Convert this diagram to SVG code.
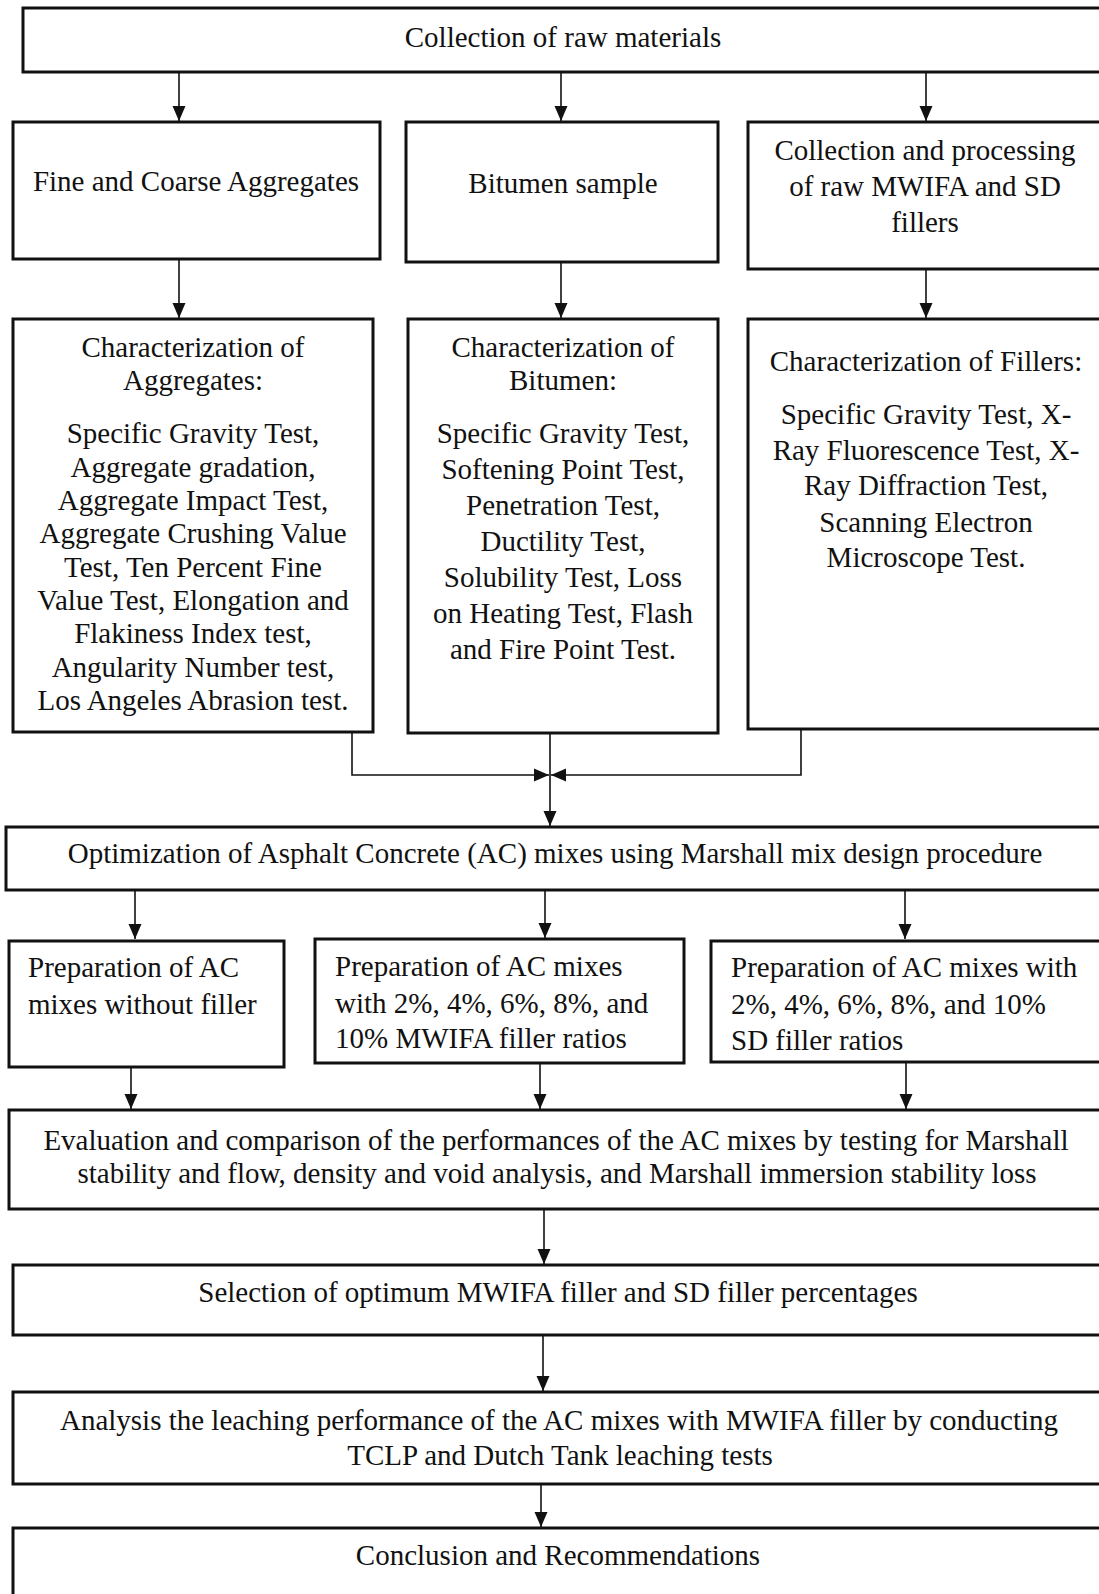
<svg xmlns="http://www.w3.org/2000/svg" width="1099" height="1594" viewBox="0 0 1099 1594">
<style>
.box{fill:#fff;stroke:#111;stroke-width:3}
.t{font-family:"Liberation Serif","Times New Roman",serif;font-size:29px;fill:#111}
.c{text-anchor:middle}
.ln{fill:none;stroke:#111;stroke-width:1.6}
</style>
<defs>
<marker id="ah" markerUnits="userSpaceOnUse" markerWidth="15" markerHeight="14" refX="15" refY="6.5" orient="auto" viewBox="0 0 15 13">
<path d="M0,0 L15,6.5 L0,13 Z" fill="#111"/>
</marker>
</defs>
<rect width="1099" height="1594" fill="#fff"/>
<g id="connectors">
<line class="ln" x1="179" y1="72" x2="179" y2="121" marker-end="url(#ah)"/>
<line class="ln" x1="561" y1="72" x2="561" y2="121" marker-end="url(#ah)"/>
<line class="ln" x1="926" y1="72" x2="926" y2="121" marker-end="url(#ah)"/>
<line class="ln" x1="179" y1="259" x2="179" y2="318" marker-end="url(#ah)"/>
<line class="ln" x1="561" y1="262" x2="561" y2="318" marker-end="url(#ah)"/>
<line class="ln" x1="926" y1="269" x2="926" y2="318" marker-end="url(#ah)"/>
<polyline class="ln" points="352,732 352,775 549,775" marker-end="url(#ah)"/>
<polyline class="ln" points="801,729 801,775 551,775" marker-end="url(#ah)"/>
<line class="ln" x1="550" y1="733" x2="550" y2="826" marker-end="url(#ah)"/>
<line class="ln" x1="135" y1="890" x2="135" y2="939" marker-end="url(#ah)"/>
<line class="ln" x1="545" y1="890" x2="545" y2="938" marker-end="url(#ah)"/>
<line class="ln" x1="905" y1="890" x2="905" y2="939" marker-end="url(#ah)"/>
<line class="ln" x1="131" y1="1067" x2="131" y2="1109" marker-end="url(#ah)"/>
<line class="ln" x1="540" y1="1063" x2="540" y2="1109" marker-end="url(#ah)"/>
<line class="ln" x1="906" y1="1062" x2="906" y2="1109" marker-end="url(#ah)"/>
<line class="ln" x1="544" y1="1210" x2="544" y2="1264" marker-end="url(#ah)"/>
<line class="ln" x1="543" y1="1335" x2="543" y2="1391" marker-end="url(#ah)"/>
<line class="ln" x1="541" y1="1484" x2="541" y2="1527" marker-end="url(#ah)"/>
</g>
<g id="n-collection">
<rect class="box" x="23" y="8" width="1090" height="64"/>
<text class="t c" x="563" y="47">Collection of raw materials</text>
</g>
<g id="n-aggregates">
<rect class="box" x="13" y="122" width="367" height="137"/>
<text class="t c" x="196" y="191">Fine and Coarse Aggregates</text>
</g>
<g id="n-bitumen">
<rect class="box" x="406" y="122" width="312" height="140"/>
<text class="t c" x="563" y="193">Bitumen sample</text>
</g>
<g id="n-fillers">
<rect class="box" x="748" y="122" width="365" height="147"/>
<text class="t c" x="925" y="160">Collection and processing</text>
<text class="t c" x="925" y="196">of raw MWIFA and SD</text>
<text class="t c" x="925" y="232">fillers</text>
</g>
<g id="n-char-agg">
<rect class="box" x="13" y="319" width="360" height="413"/>
<text class="t c" x="193" y="357">Characterization of</text>
<text class="t c" x="193" y="390">Aggregates:</text>
<text class="t c" x="193" y="443">Specific Gravity Test,</text>
<text class="t c" x="193" y="477">Aggregate gradation,</text>
<text class="t c" x="193" y="510">Aggregate Impact Test,</text>
<text class="t c" x="193" y="543">Aggregate Crushing Value</text>
<text class="t c" x="193" y="577">Test, Ten Percent Fine</text>
<text class="t c" x="193" y="610">Value Test, Elongation and</text>
<text class="t c" x="193" y="643">Flakiness Index test,</text>
<text class="t c" x="193" y="677">Angularity Number test,</text>
<text class="t c" x="193" y="710">Los Angeles Abrasion test.</text>
</g>
<g id="n-char-bit">
<rect class="box" x="408" y="319" width="310" height="414"/>
<text class="t c" x="563" y="357">Characterization of</text>
<text class="t c" x="563" y="390">Bitumen:</text>
<text class="t c" x="563" y="443">Specific Gravity Test,</text>
<text class="t c" x="563" y="479">Softening Point Test,</text>
<text class="t c" x="563" y="515">Penetration Test,</text>
<text class="t c" x="563" y="551">Ductility Test,</text>
<text class="t c" x="563" y="587">Solubility Test, Loss</text>
<text class="t c" x="563" y="623">on Heating Test, Flash</text>
<text class="t c" x="563" y="659">and Fire Point Test.</text>
</g>
<g id="n-char-fil">
<rect class="box" x="748" y="319" width="365" height="410"/>
<text class="t c" x="926" y="371">Characterization of Fillers:</text>
<text class="t c" x="926" y="424">Specific Gravity Test, X-</text>
<text class="t c" x="926" y="460">Ray Fluorescence Test, X-</text>
<text class="t c" x="926" y="495">Ray Diffraction Test,</text>
<text class="t c" x="926" y="532">Scanning Electron</text>
<text class="t c" x="926" y="567">Microscope Test.</text>
</g>
<g id="n-optimization">
<rect class="box" x="6" y="827" width="1107" height="63"/>
<text class="t c" x="555" y="863">Optimization of Asphalt Concrete (AC) mixes using Marshall mix design procedure</text>
</g>
<g id="n-prep-none">
<rect class="box" x="9" y="941" width="275" height="126"/>
<text class="t" x="28" y="977">Preparation of AC</text>
<text class="t" x="28" y="1014">mixes without filler</text>
</g>
<g id="n-prep-mwifa">
<rect class="box" x="315" y="939" width="369" height="124"/>
<text class="t" x="335" y="976">Preparation of AC mixes</text>
<text class="t" x="335" y="1013">with 2%, 4%, 6%, 8%, and</text>
<text class="t" x="335" y="1048">10% MWIFA filler ratios</text>
</g>
<g id="n-prep-sd">
<rect class="box" x="711" y="941" width="402" height="121"/>
<text class="t" x="731" y="977">Preparation of AC mixes with</text>
<text class="t" x="731" y="1014">2%, 4%, 6%, 8%, and 10%</text>
<text class="t" x="731" y="1050">SD filler ratios</text>
</g>
<g id="n-evaluation">
<rect class="box" x="9" y="1110" width="1104" height="99"/>
<text class="t c" x="556" y="1150">Evaluation and comparison of the performances of the AC mixes by testing for Marshall</text>
<text class="t c" x="557" y="1183">stability and flow, density and void analysis, and Marshall immersion stability loss</text>
</g>
<g id="n-selection">
<rect class="box" x="13" y="1265" width="1100" height="70"/>
<text class="t c" x="558" y="1302">Selection of optimum MWIFA filler and SD filler percentages</text>
</g>
<g id="n-analysis">
<rect class="box" x="13" y="1392" width="1100" height="92"/>
<text class="t c" x="559" y="1430">Analysis the leaching performance of the AC mixes with MWIFA filler by conducting</text>
<text class="t c" x="560" y="1465">TCLP and Dutch Tank leaching tests</text>
</g>
<g id="n-conclusion">
<rect class="box" x="13" y="1528" width="1100" height="80"/>
<text class="t c" x="558" y="1565">Conclusion and Recommendations</text>
</g>
</svg>
